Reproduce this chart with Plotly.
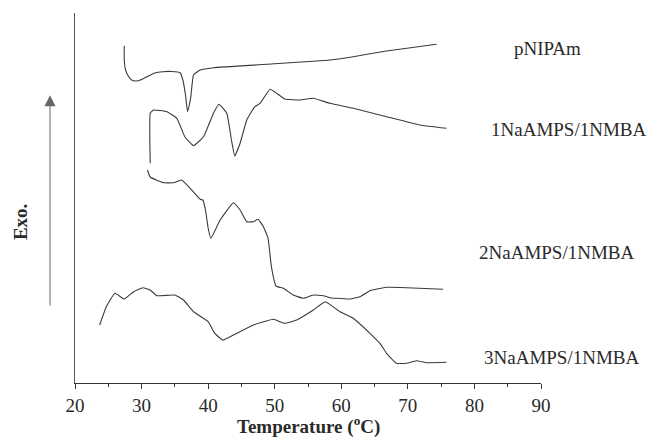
import plotly.graph_objects as go

# Temperatures (°C) and heat-flow signal (arbitrary units, exo up)
t_pnipam = [27.4, 27.4, 27.6, 28.0, 28.5, 29.2, 29.8, 30.8, 32.0, 33.2, 34.5, 35.8, 36.2, 36.6, 36.9,
            37.2, 37.4, 37.8, 38.8, 40.8, 48.8, 58.3, 61.8, 66.8, 74.3]
y_pnipam = [337, 323, 313, 307, 303, 302, 303, 306.3, 310, 311.3, 311.5, 310.3, 303, 288, 271.3,
            279, 286.3, 308, 313, 315.3, 318.7, 323, 326.3, 332, 338.7]

t_1na = [31.3, 31.3, 31.8, 33.8, 35.3, 36.5, 37.8, 39.3, 40.8, 41.6, 42.8, 43.5, 44.0, 44.8, 45.8,
         47.0, 47.8, 49.3, 50.3, 51.5, 53.8, 55.8, 58.3, 61.8, 66.8, 71.8, 75.8]
y_1na = [219.7, 269.7, 273, 271.3, 264.7, 246.3, 237.3, 246.3, 269.7, 278.7, 269.7, 243, 227, 239.7, 263,
         276.3, 279.7, 293.7, 289.7, 284, 283, 284.7, 279.7, 274.7, 266.3, 258, 254.7]

t_2na = [30.9, 31.0, 31.3, 32.2, 33.3, 34.8, 36.0, 37.3, 38.8, 39.2, 39.6, 40.0, 40.4, 41.8, 43.8, 44.8,
         45.8, 46.8, 47.5, 48.3, 49.0, 49.5, 50.2, 51.3, 52.8, 54.3, 55.8, 57.3, 58.3, 59.3, 61.3,
         62.8, 64.3, 66.8, 69.8, 75.3]
y_2na = [213, 210.5, 206, 203, 200.3, 200.3, 203, 194.7, 183.7, 183, 173, 155, 144.7, 163, 180.3, 173,
         161.3, 161.3, 163.7, 156.3, 144.7, 116.3, 97, 94.7, 88, 84.7, 88, 87.3, 85.3, 84.7, 84,
         86.3, 92.3, 95.7, 95.3, 93.7]

t_3na = [23.7, 24.7, 26.0, 27.4, 28.8, 30.2, 31.3, 32.3, 35.0, 36.3, 37.8, 40.0, 41.0, 42.2, 43.8,
         46.8, 49.8, 51.5, 53.3, 55.8, 57.6, 59.8, 61.8, 64.3, 65.8, 66.8, 68.3, 69.8, 71.3, 72.8, 75.8]
y_3na = [58, 76.3, 89.7, 84, 91.3, 95.3, 93, 87.3, 88, 83, 71.3, 61.3, 49.7, 43, 48,
         58, 63.7, 59.7, 63, 73, 81.3, 71.3, 64.7, 49.7, 39.7, 29.7, 19.7, 19.7, 22.3, 20.3, 20.7]

series_names = ["pNIPAm", "1NaAMPS/1NMBA", "2NaAMPS/1NMBA", "3NaAMPS/1NMBA"]
label_x = [1.015, 1.058, 1.034, 1.045]   # paper coords (right of plot area)
label_y = [0.905, 0.684, 0.354, 0.070]

x_ticks = [20, 30, 40, 50, 60, 70, 80, 90]

FONT = "Liberation Serif, Times New Roman, serif"
INK = "#2a2a2a"

fig = go.Figure()
for t, y, n in zip([t_pnipam, t_1na, t_2na, t_3na], [y_pnipam, y_1na, y_2na, y_3na], series_names):
    fig.add_trace(go.Scatter(x=t, y=y, mode="lines", name=n,
                             line=dict(color="#3a3a3a", width=1.1, shape="spline", smoothing=0.35),
                             showlegend=False, hoverinfo="skip"))

for n, lx, ly in zip(series_names, label_x, label_y):
    fig.add_annotation(x=lx, y=ly, xref="paper", yref="paper", text=n, showarrow=False,
                       font=dict(family=FONT, size=19, color=INK), xanchor="center", yanchor="middle")

# axis title & y label
fig.add_annotation(x=0.5, y=-0.114, xref="paper", yref="paper", text="<b>Temperature (<sup>o</sup>C)</b>",
                   showarrow=False, font=dict(family=FONT, size=19, color=INK), yanchor="middle")
fig.add_annotation(x=-0.118, y=0.435, xref="paper", yref="paper", text="<b>Exo.</b>", textangle=-90,
                   showarrow=False, font=dict(family=FONT, size=19, color=INK), xanchor="center", yanchor="middle")
# Exo. arrow
fig.add_annotation(x=-0.0536, y=0.778, xref="paper", yref="paper", ax=0, ay=212, axref="pixel", ayref="pixel",
                   text="", showarrow=True, arrowhead=2, arrowsize=2.2, arrowwidth=1, arrowcolor="#666666")

fig.update_layout(
    width=649, height=440,
    margin=dict(l=75, r=108, t=13, b=57),
    plot_bgcolor="white", paper_bgcolor="white",
    font=dict(family=FONT, size=19, color=INK),
)
fig.update_xaxes(range=[20, 90], tickvals=x_ticks, ticks="outside", ticklen=5, tickcolor="#333",
                 showline=True, linecolor="#333", linewidth=1, showgrid=False, zeroline=False,
                 minor=dict(dtick=5, ticks="outside", ticklen=3, tickcolor="#333"),
                 tickfont=dict(family=FONT, size=19, color=INK))
fig.update_yaxes(range=[0, 370], showline=True, linecolor="#555", linewidth=1, showticklabels=False,
                 ticks="", showgrid=False, zeroline=False)

# remove the default page margin so the 649x440 figure fills the window exactly
fig.write_html("out.html", config={"displayModeBar": False},
               post_script="document.body.style.margin='0';document.body.style.overflow='hidden';")
